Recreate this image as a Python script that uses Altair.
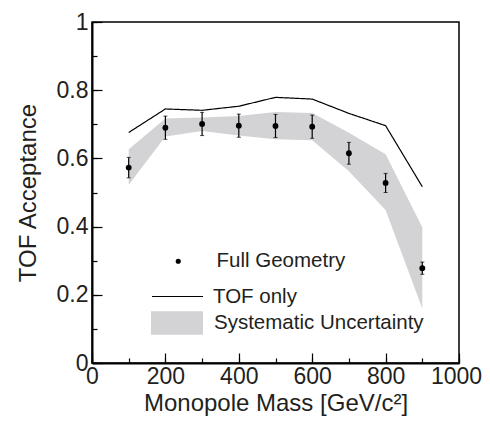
import altair as alt
import pandas as pd

# ---- data ----
mass = [100, 200, 300, 400, 500, 600, 700, 800, 900]
full_geom = [0.573, 0.690, 0.701, 0.696, 0.695, 0.693, 0.615, 0.528, 0.278]
full_err = [0.030, 0.034, 0.034, 0.034, 0.034, 0.034, 0.032, 0.028, 0.018]
tof_only = [0.676, 0.745, 0.741, 0.753, 0.779, 0.774, 0.732, 0.696, 0.517]
sys_lo = [0.523, 0.664, 0.680, 0.667, 0.656, 0.653, 0.562, 0.449, 0.160]
sys_hi = [0.627, 0.717, 0.720, 0.724, 0.736, 0.733, 0.675, 0.612, 0.398]

x_major = [0, 200, 400, 600, 800, 1000]
x_minor = [0, 100, 200, 300, 400, 500, 600, 700, 800, 900, 1000]
y_major = [0, 0.2, 0.4, 0.6, 0.8, 1.0]
y_minor = [0, 0.1, 0.2, 0.3, 0.4, 0.5, 0.6, 0.7, 0.8, 0.9, 1.0]

df = pd.DataFrame({
    "mass": mass,
    "full": full_geom,
    "flo": [v - e for v, e in zip(full_geom, full_err)],
    "fhi": [v + e for v, e in zip(full_geom, full_err)],
    "tof": tof_only,
    "lo": sys_lo,
    "hi": sys_hi,
    "s_pt": ["Full Geometry"] * len(mass),
    "s_line": ["TOF only"] * len(mass),
    "s_band": ["Systematic Uncertainty"] * len(mass),
})

FONT = "Liberation Sans"
TXT = "#231f20"
XD = [0, 1000]
YD = [0, 1]
LFS = 20.5

base = alt.Chart(df)

x_major_axis = alt.Axis(values=x_major, tickSize=alt.ExprRef(expr="-10"), tickColor="black",
                        tickWidth=1.2, domainColor="black", domainWidth=2, format="d",
                        labelFontSize=23, labelFont=FONT, labelColor=TXT, labelPadding=12,
                        labelFlush=False,
                        labelOffset={"condition": {"test": "datum.value == 1000", "value": -3},
                                     "value": 0},
                        title="Monopole Mass [GeV/c²]", titleFontSize=24, titleFont=FONT,
                        titleFontWeight="normal", titleColor=TXT, titlePadding=3,
                        grid=False, orient="bottom")
y_major_axis = alt.Axis(values=y_major, tickSize=alt.ExprRef(expr="-10"), tickColor="black",
                        tickWidth=1.2, domainColor="black", domainWidth=2, format="~g",
                        labelFontSize=23, labelFont=FONT, labelColor=TXT, labelPadding=14,
                        labelFlush=False,
                        title="TOF Acceptance", titleFontSize=24, titleFont=FONT,
                        titleFontWeight="normal", titleColor=TXT, titlePadding=16,
                        grid=False, orient="left")
x_minor_axis = alt.Axis(values=x_minor, tickSize=alt.ExprRef(expr="-5"), tickColor="black",
                        tickWidth=1.2, domain=False, labels=False, title="", grid=False,
                        orient="bottom")
y_minor_axis = alt.Axis(values=y_minor, tickSize=alt.ExprRef(expr="-5"), tickColor="black",
                        tickWidth=1.2, domain=False, labels=False, title="", grid=False,
                        orient="left")

xs = alt.Scale(domain=XD, nice=False)
ys = alt.Scale(domain=YD, nice=False)

band = base.mark_area(opacity=1).encode(
    x=alt.X("mass:Q", scale=xs, axis=x_major_axis),
    y=alt.Y("lo:Q", scale=ys, axis=y_major_axis),
    y2="hi:Q",
    color=alt.Color("s_band:N",
                    scale=alt.Scale(domain=["Systematic Uncertainty"], range=["#d3d3d5"]),
                    legend=alt.Legend(orient="none", legendX=59, legendY=275, title=None,
                                      symbolType="M-1,-0.45H1V0.45H-1Z", symbolSize=2704,
                                      symbolStrokeWidth=0, symbolOpacity=1,
                                      labelFontSize=LFS, labelFont=FONT, labelColor=TXT,
                                      labelOffset=11, labelLimit=400, padding=0)),
)

line = base.mark_line(color="black", strokeWidth=1.2).encode(
    x=alt.X("mass:Q", scale=xs, axis=x_minor_axis),
    y=alt.Y("tof:Q", scale=ys, axis=y_minor_axis),
    strokeDash=alt.StrokeDash("s_line:N",
                              scale=alt.Scale(domain=["TOF only"], range=[[1, 0]]),
                              legend=alt.Legend(orient="none", legendX=59, legendY=248, title=None,
                                                symbolType="stroke", symbolSize=2601,
                                                symbolStrokeColor="black", symbolStrokeWidth=1.2,
                                                labelFontSize=LFS, labelFont=FONT, labelColor=TXT,
                                                labelOffset=9, labelLimit=400, padding=0)),
)

err = base.mark_rule(color="black", strokeWidth=1.2).encode(
    x=alt.X("mass:Q", scale=xs, axis=None),
    y=alt.Y("flo:Q", scale=ys, axis=None),
    y2="fhi:Q",
)
cap_lo = base.mark_tick(color="black", size=4, thickness=1, orient="horizontal").encode(
    x=alt.X("mass:Q", scale=xs, axis=None),
    y=alt.Y("flo:Q", scale=ys, axis=None),
)
cap_hi = base.mark_tick(color="black", size=4, thickness=1, orient="horizontal").encode(
    x=alt.X("mass:Q", scale=xs, axis=None),
    y=alt.Y("fhi:Q", scale=ys, axis=None),
)
pts = base.mark_point(filled=True, color="black", opacity=1, size=34).encode(
    x=alt.X("mass:Q", scale=xs, axis=None),
    y=alt.Y("full:Q", scale=ys, axis=None),
    shape=alt.Shape("s_pt:N", scale=alt.Scale(domain=["Full Geometry"], range=["circle"]),
                    legend=alt.Legend(orient="none", legendX=76, legendY=229, title=None,
                                      symbolSize=26, symbolFillColor="black",
                                      symbolStrokeWidth=0, symbolOpacity=1,
                                      labelFontSize=LFS, labelFont=FONT, labelColor=TXT,
                                      labelOffset=28, labelLimit=400, padding=0)),
)

chart = alt.layer(band, line, err, cap_lo, cap_hi, pts).resolve_axis(
    x="independent", y="independent"
).resolve_legend(
    color="independent", strokeDash="independent", shape="independent"
).properties(
    width=367, height=341,
    autosize="none",
    padding={"left": 84, "top": 14, "right": 23, "bottom": 53},
    background="white",
).configure_view(stroke="black", strokeWidth=1.5)

chart.save("out.html", embed_options={"renderer": "svg", "actions": False})
